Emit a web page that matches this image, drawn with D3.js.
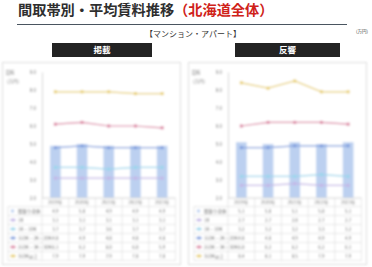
<!DOCTYPE html>
<html>
<head>
<meta charset="utf-8">
<script src="https://cdn.jsdelivr.net/npm/d3@7"></script>
<style>
html, body { margin: 0; padding: 0; background: #fff; }
svg { display: block; font-family: "Noto Sans CJK JP", "Noto Sans", sans-serif; }
</style>
</head>
<body>
<svg id="chart" width="372" height="267"></svg>
<script>
// periods and layout bands
const categories = ["2019年", "2020年", "2021年", "2022年", "2023年"];
const seriesNames = ["間取り全体", "1R", "1K・1DK", "1LDK・2K・2DK", "2LDK・3K・3DK", "3LDK以上"];
const yTicks = [2, 3, 4, 5, 6, 7, 8, 9];

// 掲載 (listings), 万円
const listedAll = [4.9, 5.0, 4.9, 4.9, 4.9];
const listed1R = [3.1, 3.1, 3.1, 3.1, 3.1];
const listed1K = [3.7, 3.7, 3.6, 3.7, 3.7];
const listed1LDK = [4.8, 4.9, 4.8, 4.8, 4.8];
const listed2LDK = [6.1, 6.2, 6.0, 6.0, 5.9];
const listed3LDK = [7.9, 7.9, 7.9, 7.8, 7.8];

// 反響 (inquiries), 万円
const inquiryAll = [5.1, 5.0, 5.1, 5.0, 5.1];
const inquiry1R = [2.7, 2.7, 2.8, 2.7, 2.7];
const inquiry1K = [3.2, 3.2, 3.2, 3.3, 3.2];
const inquiry1LDK = [4.8, 4.8, 4.9, 4.9, 4.9];
const inquiry2LDK = [6.0, 6.2, 6.2, 6.2, 6.1];
const inquiry3LDK = [8.4, 8.1, 8.5, 7.9, 7.9];

const lineColors = ["#c4b6e6", "#9ad6ec", "#7e9ddd", "#dc86a3", "#e8cf70"];
const barColor = "#bcd0f0";

const svg = d3.select("#chart");

svg.append("defs").append("filter").attr("id", "soft")
  .attr("x", "-5%").attr("y", "-5%").attr("width", "110%").attr("height", "110%")
  .append("feGaussianBlur").attr("stdDeviation", 0.95);

// header
const title = svg.append("text").attr("x", 18).attr("y", 15)
  .attr("font-size", 14.2).attr("font-weight", 700).attr("fill", "#2e2e2e");
title.append("tspan").text("間取帯別・平均賃料推移");
title.append("tspan").attr("fill", "#cf2219").text("（北海道全体）");

svg.append("line").attr("x1", 17).attr("x2", 347).attr("y1", 24.5).attr("y2", 24.5)
  .attr("stroke", "#4a5560").attr("stroke-width", 1.2);

svg.append("text").attr("x", 193).attr("y", 37).attr("text-anchor", "middle")
  .attr("font-size", 8).attr("fill", "#333").text("【マンション・アパート】");
svg.append("text").attr("x", 362).attr("y", 33).attr("text-anchor", "middle")
  .attr("font-size", 4.5).attr("fill", "#444").text("(万円)");

const panels = [
  { label: "掲載", dx: 0, box: [52, 100], values: [listedAll, listed1R, listed1K, listed1LDK, listed2LDK, listed3LDK] },
  { label: "反響", dx: 186, box: [235, 105], values: [inquiryAll, inquiry1R, inquiry1K, inquiry1LDK, inquiry2LDK, inquiry3LDK] }
];

const x = d3.scaleBand().domain(categories).range([42, 175.5]);
const y = d3.scaleLinear().domain([2, 9]).range([198, 72]);
const rowTop = 206.5, rowH = 9;
const fmt = d3.format(".1f");

panels.forEach((p) => {
  svg.append("rect").attr("x", p.box[0]).attr("y", 43).attr("width", p.box[1]).attr("height", 14)
    .attr("fill", "#232323");
  svg.append("text").attr("x", p.box[0] + p.box[1] / 2).attr("y", 53.3).attr("text-anchor", "middle")
    .attr("font-size", 8.5).attr("font-weight", 700).attr("fill", "#fff").text(p.label);

  const g = svg.append("g").attr("transform", `translate(${p.dx},0)`).attr("filter", "url(#soft)");

  g.append("rect").attr("x", 2.5).attr("y", 62.5).attr("width", 178).attr("height", 202)
    .attr("fill", "#fff").attr("stroke", "#dcdcdc");

  g.append("text").attr("x", 10).attr("y", 74).attr("text-anchor", "middle")
    .attr("font-size", 4.5).attr("fill", "#777").text("賃料");
  g.append("text").attr("x", 13).attr("y", 83).attr("text-anchor", "middle")
    .attr("font-size", 4.5).attr("fill", "#777").text("(万円)");

  const yAxis = g.append("g").attr("transform", "translate(42,0)")
    .call(d3.axisLeft(y).tickValues(yTicks).tickSize(0).tickPadding(6).tickFormat(fmt));
  yAxis.select(".domain").attr("stroke", "#d4d4d4");
  yAxis.selectAll("text").attr("font-size", 4.5).attr("fill", "#777").attr("font-family", null);

  // bars: overall average
  const bw = x.bandwidth() * 0.4;
  g.selectAll(".bar").data(p.values[0]).enter().append("rect")
    .attr("x", (d, i) => x(categories[i]) + (x.bandwidth() - bw) / 2)
    .attr("y", (d) => y(d))
    .attr("width", bw)
    .attr("height", (d) => y(2) - y(d))
    .attr("fill", barColor);

  // lines
  const line = d3.line().x((d, i) => x(categories[i]) + x.bandwidth() / 2).y((d) => y(d));
  p.values.slice(1).forEach((vals, k) => {
    g.append("path").datum(vals).attr("d", line).attr("fill", "none")
      .attr("stroke", lineColors[k]).attr("stroke-width", 1.2);
    g.selectAll(null).data(vals).enter().append("rect")
      .attr("x", (d, i) => x(categories[i]) + x.bandwidth() / 2 - 1.5)
      .attr("y", (d) => y(d) - 1.5)
      .attr("width", 3).attr("height", 3)
      .attr("fill", lineColors[k]);
  });

  // category axis
  g.append("line").attr("x1", 42).attr("x2", 175.5).attr("y1", 198).attr("y2", 198).attr("stroke", "#d4d4d4");
  g.selectAll(".cat").data(categories).enter().append("text")
    .attr("x", (d) => x(d) + x.bandwidth() / 2).attr("y", 203.5).attr("text-anchor", "middle")
    .attr("font-size", 4.5).attr("fill", "#777").text((d) => d);

  // data table
  const tableBottom = rowTop + rowH * seriesNames.length;
  d3.range(seriesNames.length + 1).forEach((r) => {
    g.append("line").attr("x1", 8).attr("x2", 175.5)
      .attr("y1", rowTop + r * rowH).attr("y2", rowTop + r * rowH).attr("stroke", "#d8d8d8").attr("stroke-width", 0.6);
  });
  [8].concat(categories.map((c) => x(c)), [175.5]).forEach((vx) => {
    g.append("line").attr("x1", vx).attr("x2", vx).attr("y1", vx === 8 ? rowTop : 198).attr("y2", tableBottom)
      .attr("stroke", "#d8d8d8").attr("stroke-width", 0.6);
  });

  seriesNames.forEach((name, r) => {
    const cy = rowTop + r * rowH + rowH / 2;
    if (r === 0) {
      g.append("rect").attr("x", 11).attr("y", cy - 1.5).attr("width", 3).attr("height", 3).attr("fill", barColor);
    } else {
      g.append("line").attr("x1", 10).attr("x2", 16).attr("y1", cy).attr("y2", cy)
        .attr("stroke", lineColors[r - 1]).attr("stroke-width", 1.2);
      g.append("rect").attr("x", 11.5).attr("y", cy - 1.5).attr("width", 3).attr("height", 3)
        .attr("fill", lineColors[r - 1]);
    }
    g.append("text").attr("x", 18).attr("y", cy + 1.6).attr("font-size", 4.5).attr("fill", "#666").text(name);
    g.selectAll(null).data(p.values[r]).enter().append("text")
      .attr("x", (d, i) => x(categories[i]) + x.bandwidth() / 2).attr("y", cy + 1.6)
      .attr("text-anchor", "middle").attr("font-size", 4.5).attr("fill", "#666").text((d) => fmt(d));
  });
});
</script>
</body>
</html>
